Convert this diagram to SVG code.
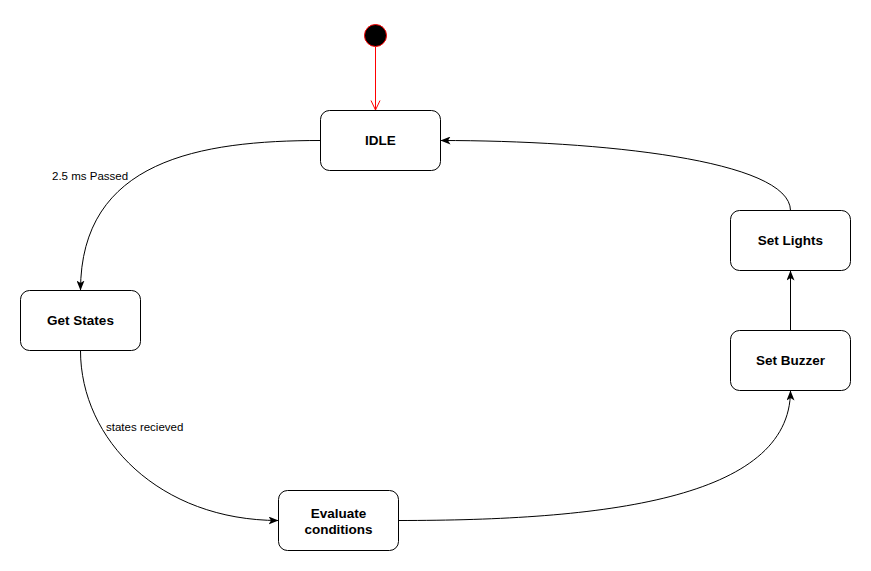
<svg xmlns="http://www.w3.org/2000/svg" width="871" height="571" viewBox="0 0 871 571">
  <style>
    .state rect { fill: #ffffff; stroke: #000000; stroke-width: 1; }
    .state text { font-family: "Liberation Sans", Arial, sans-serif; font-size: 13.5px; font-weight: bold; fill: #000000; text-anchor: middle; }
    .edge { fill: none; stroke: #000000; stroke-width: 1; }
    .label { font-family: "Liberation Sans", Arial, sans-serif; font-size: 11.5px; fill: #000000; }
  </style>
  <defs>
    <marker id="arrow" viewBox="0 0 10 8" refX="10" refY="4" markerWidth="10" markerHeight="8" markerUnits="userSpaceOnUse" orient="auto">
      <path d="M0,0 L10,4 L0,8 L2.5,4 Z" fill="#000000"/>
    </marker>
  </defs>
  <rect width="871" height="571" fill="#ffffff"/>

  <!-- initial pseudo-state -->
  <g id="start">
    <circle cx="375.5" cy="35.5" r="11" fill="#000000" stroke="#ff0000" stroke-width="1"/>
  </g>

  <g id="idle" class="state">
    <rect x="320.5" y="110.5" width="120" height="60" rx="9" ry="9"/>
    <text x="380.5" y="145">IDLE</text>
  </g>

  <g id="get-states" class="state">
    <rect x="20.5" y="290.5" width="120" height="60" rx="9" ry="9"/>
    <text x="80.5" y="325">Get States</text>
  </g>

  <g id="evaluate" class="state">
    <rect x="278.5" y="490.5" width="120" height="60" rx="9" ry="9"/>
    <text x="338.5" y="517.5">Evaluate</text>
    <text x="338.5" y="534">conditions</text>
  </g>

  <g id="set-buzzer" class="state">
    <rect x="730.5" y="330.5" width="120" height="60" rx="9" ry="9"/>
    <text x="790.5" y="365">Set Buzzer</text>
  </g>

  <g id="set-lights" class="state">
    <rect x="730.5" y="210.5" width="120" height="60" rx="9" ry="9"/>
    <text x="790.5" y="245">Set Lights</text>
  </g>

  <g id="connectors">
    <!-- start -> IDLE -->
    <path d="M375.5 47 L375.5 110" fill="none" stroke="#ff0000" stroke-width="1"/>
    <path d="M371 100.5 L375.5 110 L380 100.5" fill="none" stroke="#ff0000" stroke-width="1"/>

    <!-- IDLE -> Get States -->
    <path class="edge" d="M320.5 140.5 C200 140.5, 80.5 160, 80.5 290.5" marker-end="url(#arrow)"/>
    <text class="label" x="52" y="180">2.5 ms Passed</text>

    <!-- Get States -> Evaluate conditions -->
    <path class="edge" d="M80.5 350.5 C80.5 440, 160 520.5, 278.5 520.5" marker-end="url(#arrow)"/>
    <text class="label" x="106" y="430.5">states recieved</text>

    <!-- Evaluate conditions -> Set Buzzer -->
    <path class="edge" d="M398.5 520.5 C600 520.5, 790.5 500, 790.5 390.5" marker-end="url(#arrow)"/>

    <!-- Set Buzzer -> Set Lights -->
    <path class="edge" d="M790.5 330.5 L790.5 270.5" marker-end="url(#arrow)"/>

    <!-- Set Lights -> IDLE -->
    <path class="edge" d="M790.5 210.5 C790 160, 600 140.5, 440.5 140.5" marker-end="url(#arrow)"/>
  </g>
</svg>
